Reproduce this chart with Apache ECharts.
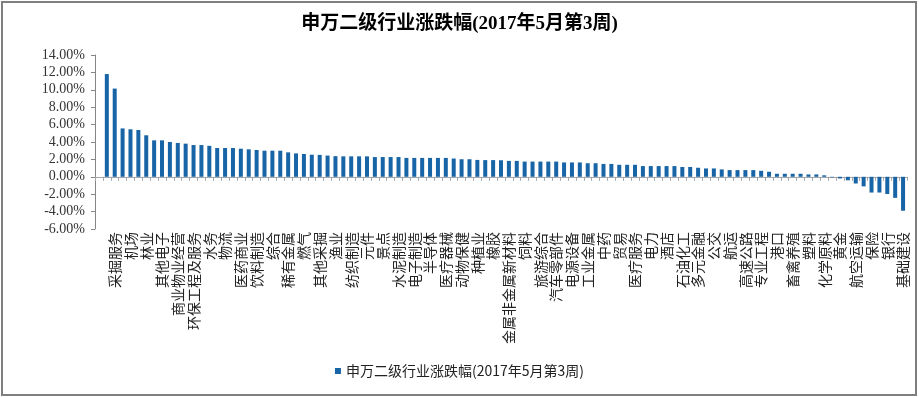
<!DOCTYPE html>
<html>
<head>
<meta charset="utf-8">
<script src="https://cdn.jsdelivr.net/npm/echarts@6/dist/echarts.min.js"></script>
<style>
  html, body { margin: 0; padding: 0; background: #fff; }
  #swChart { width: 919px; height: 398px; }
</style>
</head>
<body>
<div id="swChart"></div>
<script>
// 图表标题 / 图例名称
var chartTitle = '申万二级行业涨跌幅(2017年5月第3周)';

// 能看清的行业名称（每隔一根柱子显示一次）
var shownNames = ['采掘服务','机场','林业','其他电子','商业物业经营','环保工程及服务','水务','物流',
    '医药商业','饮料制造','综合','稀有金属','燃气','其他采掘','渔业','纺织制造','元件','景点',
    '水泥制造','电子制造','半导体','医疗器械','动物保健','种植业','橡胶','金属非金属新材料','饲料',
    '旅游综合','汽车零部件','电源设备','工业金属','中药','贸易','医疗服务','电力','酒店','石油化工',
    '多元金融','公交','航运','高速公路','专业工程','港口','畜禽养殖','塑料','化学原料','黄金',
    '航空运输','保险','银行','基础建设'];

// 周涨跌幅(%)，按从高到低排列
var weeklyChange = [11.81, 10.14, 5.56, 5.46, 5.38, 4.77, 4.19, 4.19, 4.00, 3.89,
    3.81, 3.65, 3.65, 3.56, 3.31, 3.31, 3.31, 3.23, 3.16, 3.08,
    3.00, 3.00, 3.00, 2.81, 2.69, 2.62, 2.54, 2.52, 2.44, 2.37,
    2.35, 2.35, 2.35, 2.35, 2.27, 2.27, 2.27, 2.27, 2.17, 2.17,
    2.17, 2.17, 2.17, 2.17, 2.10, 2.02, 2.02, 1.94, 1.92, 1.92,
    1.90, 1.83, 1.83, 1.75, 1.75, 1.75, 1.75, 1.75, 1.65, 1.65,
    1.65, 1.56, 1.56, 1.48, 1.48, 1.38, 1.38, 1.38, 1.23, 1.23,
    1.23, 1.23, 1.23, 1.13, 1.13, 1.04, 0.96, 0.96, 0.85, 0.77,
    0.77, 0.77, 0.77, 0.69, 0.58, 0.35, 0.35, 0.35, 0.35, 0.27,
    0.27, 0.17, -0.06, -0.19, -0.40, -0.77, -1.10, -1.81, -1.81, -1.98,
    -2.42, -3.90];

// Y轴刻度
var yMin = -6, yMax = 14, yStep = 2;

var barColor = '#1764a6';
var cjkFont = '"Liberation Serif", "Noto Sans CJK SC", serif';

// 类目：最前面有一个空类目，柱子名称只认出了偶数位置的
var categories = [''];
var seriesData = ['-'];
for (var i = 0; i < weeklyChange.length; i++) {
    var n = i + 1;
    categories.push(n % 2 == 0 ? shownNames[n / 2 - 1] : '');
    seriesData.push(weeklyChange[i]);
}

var myChart = echarts.init(document.getElementById('swChart'));
var option = {
    animation: false,
    backgroundColor: '#fff',
    title: {
        text: chartTitle,
        left: 'center',
        top: 15,
        padding: 0,
        textStyle: {
            fontFamily: cjkFont,
            fontSize: 19,
            fontWeight: 'bold',
            color: '#000'
        }
    },
    legend: {
        bottom: 15,
        left: 'center',
        icon: 'rect',
        itemWidth: 6,
        itemHeight: 6,
        itemGap: 4,
        textStyle: {
            fontFamily: '"Noto Sans CJK SC", sans-serif',
            fontSize: 14,
            color: '#222'
        },
        data: [chartTitle]
    },
    grid: {
        left: 95,
        right: 12,
        top: 55,
        bottom: 169
    },
    xAxis: [{
        // 零轴：线和刻度
        type: 'category',
        data: categories,
        axisLine: { onZero: true, lineStyle: { color: '#a6a6a6', width: 1 } },
        axisTick: { show: true, interval: 0, length: 4, lineStyle: { color: '#a6a6a6' } },
        axisLabel: { show: false }
    }, {
        // 底部：只放行业名称
        type: 'category',
        position: 'bottom',
        data: categories,
        axisLine: { show: false, onZero: false },
        axisTick: { show: false },
        axisLabel: {
            interval: 1,
            rotate: 90,
            margin: 3,
            fontFamily: '"Noto Sans CJK SC", sans-serif',
            fontSize: 14,
            color: '#222'
        }
    }],
    yAxis: {
        type: 'value',
        min: yMin,
        max: yMax,
        interval: yStep,
        axisLine: { show: true, lineStyle: { color: '#868686' } },
        axisTick: { show: true, length: 4, lineStyle: { color: '#868686' } },
        splitLine: { show: false },
        axisLabel: {
            margin: 10,
            fontFamily: '"Liberation Serif", serif',
            fontSize: 14,
            color: '#333',
            formatter: function (v) { return v.toFixed(2) + '%'; }
        }
    },
    series: [{
        name: chartTitle,
        type: 'bar',
        xAxisIndex: 0,
        barWidth: 4,
        itemStyle: { color: barColor },
        data: seriesData
    }],
    graphic: [{
        // 外边框
        type: 'rect',
        shape: { x: 2, y: 2, width: 914, height: 393 },
        style: { fill: 'none', stroke: '#7f7f7f', lineWidth: 2 },
        silent: true
    }]
};
myChart.setOption(option);
</script>
</body>
</html>
